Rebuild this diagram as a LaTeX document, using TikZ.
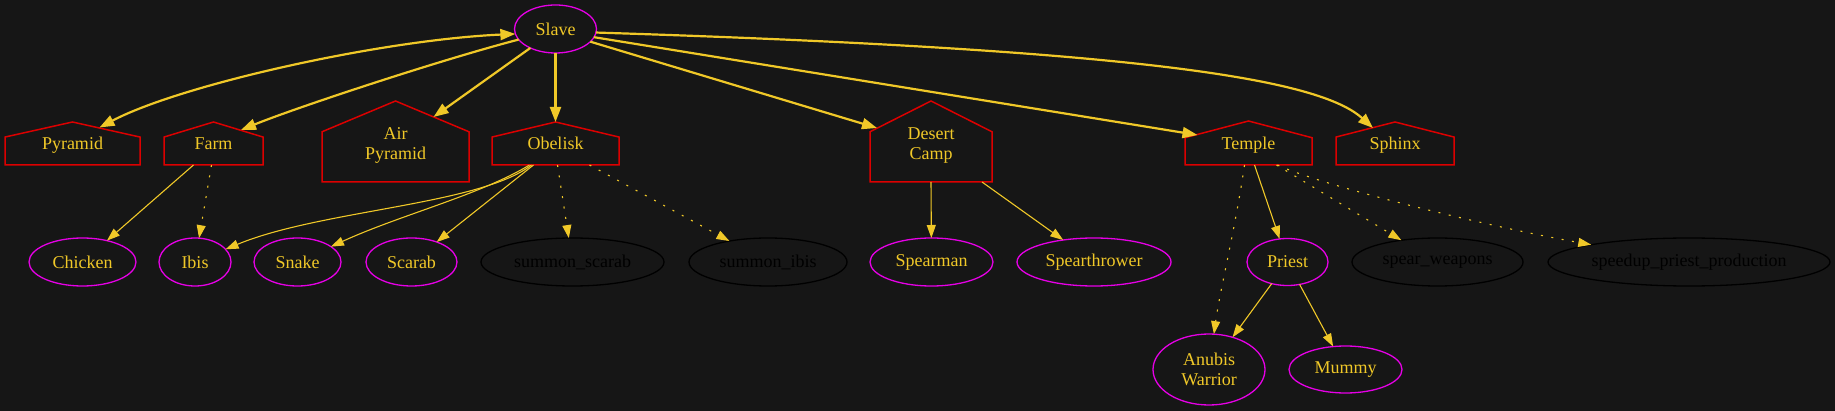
\documentclass[tikz,border=0pt]{standalone}
\usepackage{fontspec}
\setmainfont{Liberation Serif}
\usetikzlibrary{arrows.meta,shapes.geometric,calc}
\definecolor{bg}{RGB}{22,22,22}
\definecolor{gold}{RGB}{240,200,40}
\definecolor{hred}{RGB}{220,0,0}
\definecolor{mag}{RGB}{230,0,230}
\newcommand{\drawhouse}[2]{\draw[housestyle] (#1.south west) -- (#1.south east) -- ($(#1.south east)!#2!(#1.north east)$) -- (#1.north) -- ($(#1.south west)!#2!(#1.north west)$) -- cycle;}
\begin{document}
\begin{tikzpicture}[x=1pt,y=-1pt,
  every node/.style={font=\fontsize{18}{20}\selectfont, inner sep=0pt, outer sep=0pt, align=center},
  unit/.style={ellipse, draw=mag, line width=1.3pt, text=gold, minimum height=48pt},
  tech/.style={ellipse, draw=black, line width=1.3pt, text=black, minimum height=48pt},
  bld/.style={rectangle, text=gold, text height=13pt, text depth=0pt},
  bldtwo/.style={rectangle, text=gold, text height=37pt, text depth=-3pt},
  housestyle/.style={draw=hred, line width=1.5pt, line join=miter},
  thickedge/.style={draw=gold, line width=2.2pt, -{Triangle[length=15pt,width=11pt]}},
  thinedge/.style={draw=gold, line width=1.1pt, -{Triangle[length=13pt,width=9pt]}},
  dotedge/.style={thinedge, dash pattern=on 2pt off 8.5pt},
]
\useasboundingbox (0,0) rectangle (1835,411);
\fill[bg] (0,0) rectangle (1835,411);

% top
\node[unit, minimum width=82pt] (Slave) at (555.5,29) {Slave};

% buildings
\node[bld, minimum width=135pt, minimum height=43pt] (Pyramid) at (72.5,143.5) {Pyramid};
\node[bld, minimum width=99pt, minimum height=43pt] (Farm) at (213.5,143.5) {Farm};
\node[bldtwo, minimum width=147pt, minimum height=81pt] (AirPyramid) at (395.5,141.5) {Air\\Pyramid};
\node[bld, minimum width=127pt, minimum height=43pt] (Obelisk) at (555.5,143.5) {Obelisk};
\node[bldtwo, minimum width=122pt, minimum height=81pt] (DesertCamp) at (931,141.5) {Desert\\Camp};
\node[bld, minimum width=127pt, minimum height=44pt] (Temple) at (1248.5,143) {Temple};
\node[bld, minimum width=118pt, minimum height=43pt] (Sphinx) at (1395,143.5) {Sphinx};
\drawhouse{Pyramid}{0.65}
\drawhouse{Farm}{0.65}
\drawhouse{AirPyramid}{0.62}
\drawhouse{Obelisk}{0.65}
\drawhouse{DesertCamp}{0.62}
\drawhouse{Temple}{0.62}
\drawhouse{Sphinx}{0.65}

% second row
\node[unit, minimum width=107pt] (Chicken) at (82.5,262) {Chicken};
\node[unit, minimum width=72pt] (Ibis) at (195,262) {Ibis};
\node[unit, minimum width=87pt] (Snake) at (297.5,262) {Snake};
\node[unit, minimum width=91pt] (Scarab) at (411.5,262) {Scarab};
\node[tech, minimum width=183pt] (summonscarab) at (572.5,262) {summon\_scarab};
\node[tech, minimum width=158pt] (summonibis) at (768,262) {summon\_ibis};
\node[unit, minimum width=123pt] (Spearman) at (931.5,262) {Spearman};
\node[unit, minimum width=154pt] (Spearthrower) at (1094,262) {Spearthrower};
\node[unit, minimum width=81pt, minimum height=47pt] (Priest) at (1287.5,262) {Priest};
\node[tech, minimum width=171pt] (spearweapons) at (1437.5,262) {spear\_weapons};
\node[tech, minimum width=282pt] (speedup) at (1689,262) {speedup\_priest\_production};

% third row
\node[unit, minimum width=112pt, minimum height=71pt] (AnubisWarrior) at (1209,369.5) {Anubis\\Warrior};
\node[unit, minimum width=113pt, minimum height=47pt] (Mummy) at (1345.5,369.5) {Mummy};

% edges from Slave
\draw[thickedge, {Triangle[length=15pt,width=11pt]}-{Triangle[length=15pt,width=11pt]}]
  (Slave.187) .. controls (380,40) and (180,85) .. ($(Pyramid.north)+(27,5.5)$);
\draw[thickedge] (Slave.196) .. controls (440,60) and (295,108) .. ($(Farm.north)+(27.5,8)$);
\draw[thickedge] (Slave.217) -- ($(AirPyramid.north)+(38,16)$);
\draw[thickedge] (Slave.south) -- (Obelisk.north);
\draw[thickedge] (Slave.340) -- ($(DesertCamp.north)+(-54,27)$);
\draw[thickedge] (Slave.348) -- ($(Temple.north)+(-51,14)$);
\draw[thickedge] (Slave.355) .. controls (1150,50) and (1320,80) .. ($(Sphinx.north)+(-22,6)$);

% Farm
\draw[thinedge] ($(Farm.south)+(-20,0)$) -- (Chicken);
\draw[dotedge] ($(Farm.south)+(-2,0)$) -- (Ibis);

% Obelisk
\draw[thinedge] ($(Obelisk.south)+(-24,0)$) .. controls (480,205) and (320,210) .. (Ibis);
\draw[thinedge] ($(Obelisk.south)+(-26,0)$) .. controls (480,195) and (400,215) .. (Snake);
\draw[thinedge] ($(Obelisk.south)+(-22,0)$) -- (Scarab);
\draw[dotedge] ($(Obelisk.south)+(2,0)$) -- (summonscarab);
\draw[dotedge] ($(Obelisk.south)+(34,0)$) -- (summonibis);

% Desert Camp
\draw[thinedge] (DesertCamp.south) -- (Spearman);
\draw[thinedge] ($(DesertCamp.south east)+(-10,0)$) -- (Spearthrower);

% Temple
\draw[thinedge] ($(Temple.south)+(6,0)$) -- (Priest);
\draw[dotedge] ($(Temple.south)+(-4,0)$) .. controls (1235,230) and (1220,290) .. (AnubisWarrior);
\draw[dotedge] ($(Temple.south)+(28,0)$) -- (spearweapons);
\draw[dotedge] ($(Temple.south)+(29,0)$) .. controls (1320,185) and (1480,225) .. (speedup);

% Priest
\draw[thinedge] (Priest) -- (AnubisWarrior);
\draw[thinedge] (Priest) -- (Mummy);
\end{tikzpicture}
\end{document}
